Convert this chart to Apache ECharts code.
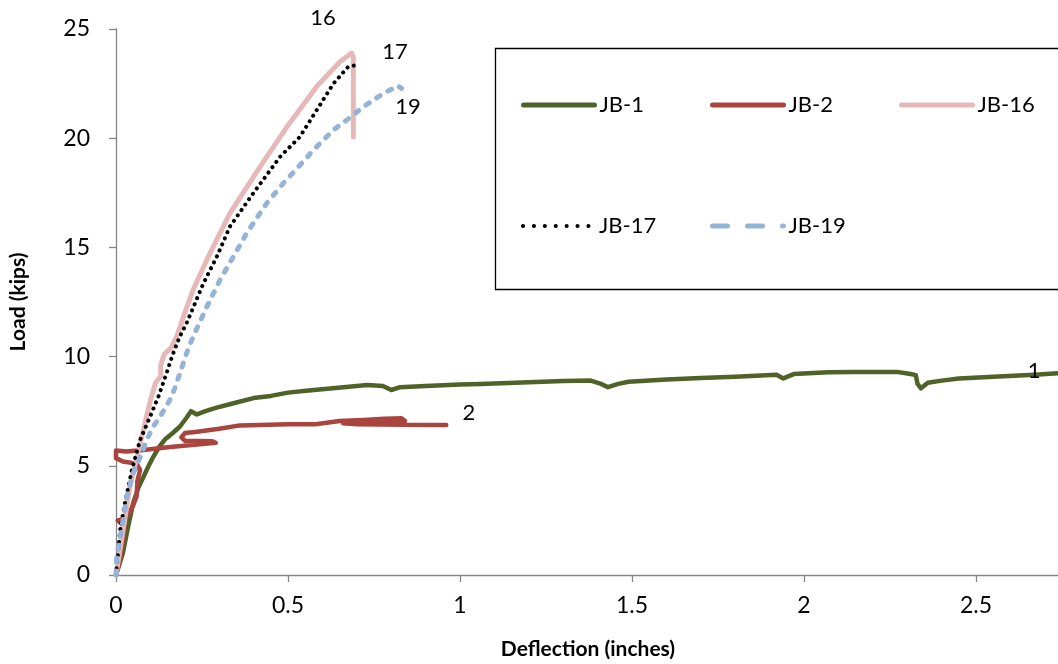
<!DOCTYPE html>
<html>
<head>
<meta charset="utf-8">
<script src="https://cdn.jsdelivr.net/npm/echarts@6/dist/echarts.min.js"></script>
<style>
html,body{margin:0;padding:0;background:#fff;}
#chart{width:1058px;height:664px;}
</style>
</head>
<body>
<div id="chart"></div>
<script>
// ---- data (deflection in inches, load in kips) ----
const seriesNames = ['JB-1', 'JB-2', 'JB-16', 'JB-17', 'JB-19'];
const xTicks = [0, 0.5, 1, 1.5, 2, 2.5];
const yTicks = [0, 5, 10, 15, 20, 25];

const jb1 = [[0,0],[0.02,1.0],[0.035,2.2],[0.05,3.3],[0.065,4.0],[0.08,4.5],[0.095,5.0],[0.108,5.4],[0.125,5.85],[0.142,6.2],[0.165,6.5],[0.186,6.8],[0.205,7.2],[0.218,7.5],[0.235,7.35],[0.26,7.5],[0.29,7.65],[0.35,7.9],[0.40,8.1],[0.45,8.2],[0.50,8.35],[0.56,8.45],[0.63,8.55],[0.70,8.65],[0.73,8.7],[0.776,8.65],[0.80,8.47],[0.826,8.6],[0.9,8.65],[1.0,8.72],[1.06,8.75],[1.2,8.82],[1.3,8.88],[1.38,8.9],[1.41,8.75],[1.43,8.6],[1.46,8.75],[1.49,8.85],[1.6,8.95],[1.7,9.02],[1.8,9.08],[1.92,9.17],[1.94,9.0],[1.97,9.2],[2.07,9.28],[2.15,9.3],[2.27,9.3],[2.31,9.2],[2.325,9.15],[2.33,8.75],[2.34,8.55],[2.36,8.8],[2.4,8.9],[2.45,9.0],[2.55,9.08],[2.67,9.17],[2.75,9.25],[2.8,9.3]];

const jb2 = [[0,0],[0.01,0.6],[0.02,1.5],[0.025,2.2],[0.005,2.5],[0,2.55],[0.03,2.6],[0.05,3.2],[0.06,3.6],[0.062,4.3],[0.07,4.8],[0.06,5.1],[0.02,5.2],[0,5.35],[0,5.7],[0.03,5.65],[0.08,5.72],[0.15,5.85],[0.22,5.95],[0.29,6.05],[0.28,6.12],[0.2,6.15],[0.19,6.3],[0.2,6.5],[0.23,6.55],[0.3,6.7],[0.36,6.85],[0.5,6.9],[0.58,6.9],[0.65,7.05],[0.72,7.1],[0.78,7.15],[0.83,7.18],[0.84,7.05],[0.75,7.0],[0.66,6.95],[0.7,6.9],[0.84,6.88],[0.96,6.87]];

const jb16 = [[0,0],[0.01,1],[0.02,2],[0.03,3],[0.04,4],[0.055,5],[0.07,6],[0.085,7],[0.1,8],[0.115,8.8],[0.13,9.1],[0.13,9.6],[0.14,10.1],[0.16,10.4],[0.176,10.9],[0.2,12],[0.224,13.05],[0.273,14.73],[0.331,16.56],[0.419,18.7],[0.496,20.5],[0.583,22.36],[0.651,23.5],[0.685,23.9],[0.69,23.7],[0.69,20.05]];

const jb17 = [[0,0],[0.012,2.06],[0.026,3.3],[0.046,4.8],[0.07,6.18],[0.099,7.25],[0.123,8.16],[0.147,9.24],[0.165,10.1],[0.185,10.9],[0.205,11.52],[0.254,13.35],[0.293,14.57],[0.331,15.95],[0.399,17.48],[0.477,19.15],[0.535,20.07],[0.54,20.2],[0.632,22.5],[0.675,23.27],[0.70,23.35]];

const jb19 = [[0,0],[0.002,0.84],[0.016,2.06],[0.031,3.58],[0.05,4.66],[0.075,5.57],[0.089,6.18],[0.108,6.79],[0.128,7.25],[0.162,8.16],[0.186,9.24],[0.205,10.15],[0.225,10.95],[0.264,12.28],[0.302,13.5],[0.341,14.57],[0.38,15.65],[0.438,17.02],[0.486,17.93],[0.535,18.77],[0.574,19.46],[0.632,20.38],[0.671,20.83],[0.719,21.44],[0.777,22.05],[0.82,22.39],[0.83,22.28]];

// curve tags: [text, x, y, pixel offset above] in data units
const tags = [['1', 2.669, 9.34, 0], ['2', 1.026, 7.42, 0], ['16', 0.602, 25, 11], ['17', 0.811, 23.95, 0], ['19', 0.849, 21.43, 0]];

// ---- chart ----
const FONT = 'Lato';
const colors = ['#4F6228', '#A9443F', '#E6B9B8', '#000000', '#95B3D7'];
const datasets = [jb1, jb2, jb16, jb17, jb19];
const lineStyles = [
  {width: 4.5, type: 'solid', cap: 'round', join: 'round'},
  {width: 4.5, type: 'solid', cap: 'round', join: 'round'},
  {width: 5, type: 'solid', cap: 'round', join: 'round'},
  {width: 4, type: [0.1, 6.5], cap: 'round', join: 'round'},
  {width: 5, type: [4, 9], cap: 'round', join: 'round'}
];
const legendStyles = [
  {width: 5, type: 'solid', cap: 'round'},
  {width: 5, type: 'solid', cap: 'round'},
  {width: 5, type: 'solid', cap: 'round'},
  {width: 4, type: [0.1, 10.8], cap: 'round'},
  {width: 5, type: [15, 20], cap: 'round'}
];
const legendPos = [[521, 94], [710, 94], [899, 94], [521, 215], [710, 215]];

const series = seriesNames.map((name, i) => {
  const tag = tags.find(t => t[0] === name.replace('JB-', ''));
  return {
    name: name,
    type: 'line',
    data: datasets[i],
    showSymbol: false,
    symbol: 'none',
    smooth: false,
    clip: true,
    animation: false,
    itemStyle: {color: colors[i]},
    lineStyle: Object.assign({color: colors[i]}, lineStyles[i]),
    markPoint: {
      symbol: 'circle',
      symbolSize: 0,
      animation: false,
      data: [{coord: [tag[1], tag[2]], value: tag[0]}],
      label: {show: true, position: 'inside', offset: [0, -tag[3]], formatter: tag[0], color: '#000', fontFamily: FONT, fontSize: 22}
    }
  };
});

const legends = seriesNames.map((name, i) => ({
  data: [name],
  left: legendPos[i][0],
  top: legendPos[i][1],
  padding: 0,
  itemWidth: 71,
  itemHeight: 14,
  itemGap: 0,
  selectedMode: false,
  itemStyle: {opacity: 0, borderWidth: 0},
  lineStyle: legendStyles[i],
  textStyle: {fontFamily: FONT, fontSize: 22, color: '#000'}
}));

const axisGray = '#868686';
const option = {
  backgroundColor: '#fff',
  animation: false,
  textStyle: {fontFamily: FONT},
  grid: {left: 116, top: 29, right: -2, bottom: 89, containLabel: false, outerBoundsMode: 'none'},
  legend: legends,
  graphic: [{
    type: 'rect',
    left: 493, top: 46,
    shape: {width: 620, height: 241},
    style: {fill: 'none', stroke: '#000', lineWidth: 1.3},
    z: 10
  }],
  xAxis: {
    type: 'value',
    min: 0,
    max: 944 / 344,
    interval: 0.5,
    name: 'Deflection (inches)',
    nameLocation: 'middle',
    nameGap: 64,
    nameTextStyle: {fontFamily: FONT, fontSize: 21, fontWeight: 'bold', color: '#000'},
    axisLine: {show: true, lineStyle: {color: axisGray, width: 1.3}},
    axisTick: {show: true, inside: false, length: 7, lineStyle: {color: axisGray, width: 1.3}},
    splitLine: {show: false},
    axisLabel: {
      margin: 19,
      fontFamily: FONT, fontSize: 23, color: '#000',
      formatter: v => xTicks.some(t => Math.abs(t - v) < 1e-6) ? String(v) : ''
    }
  },
  yAxis: {
    type: 'value',
    min: 0,
    max: 25,
    interval: 5,
    name: 'Load (kips)',
    nameLocation: 'middle',
    nameGap: 87,
    nameTextStyle: {fontFamily: FONT, fontSize: 21, fontWeight: 'bold', color: '#000'},
    axisLine: {show: true, lineStyle: {color: axisGray, width: 1.3}},
    axisTick: {show: true, inside: false, length: 7, lineStyle: {color: axisGray, width: 1.3}},
    splitLine: {show: false},
    axisLabel: {
      margin: 26,
      fontFamily: FONT, fontSize: 23, color: '#000',
      formatter: v => yTicks.includes(v) ? String(v) : ''
    }
  },
  series: series
};

const chart = echarts.init(document.getElementById('chart'), null, {renderer: 'canvas'});
chart.setOption(option);
</script>
</body>
</html>
